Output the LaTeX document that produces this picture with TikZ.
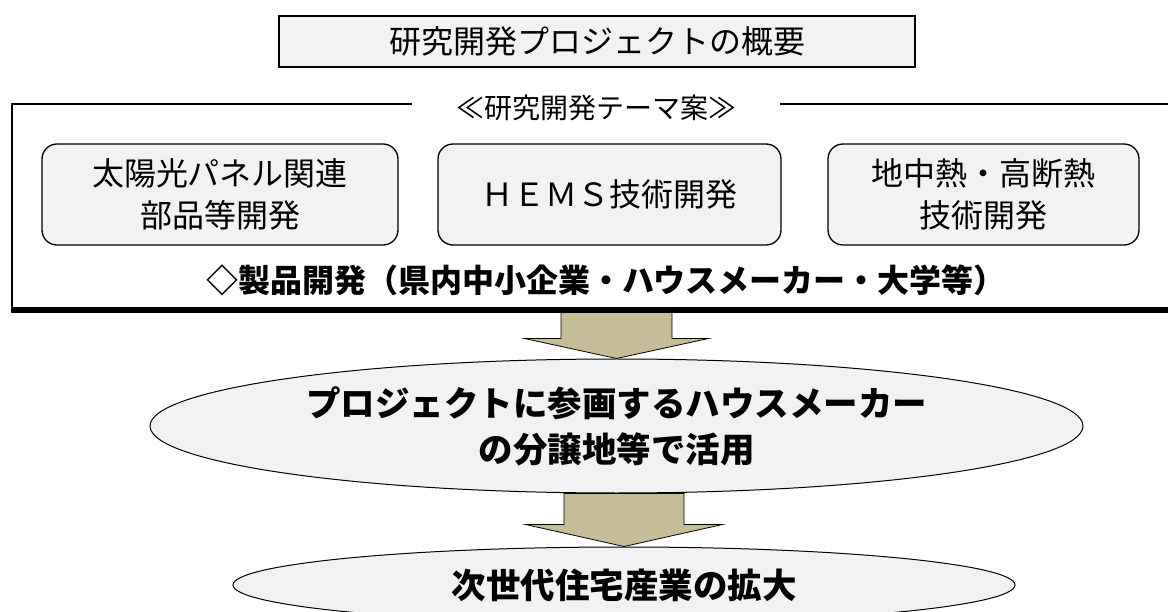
\documentclass[tikz,border=0pt]{standalone}
\usepackage{fontspec}
\setmainfont{Noto Sans CJK JP}
\usetikzlibrary{shapes.geometric,calc}
\definecolor{boxgray}{RGB}{242,242,242}
\definecolor{arrowtan}{RGB}{196,189,151}
\tikzstyle{themebox} = [draw, line width=1.3pt, rounded corners=15pt, fill=boxgray, minimum height=101pt, inner sep=0pt, align=center, font=\fontsize{32}{42}\selectfont]
\tikzstyle{outcome} = [draw, line width=1pt, ellipse, fill=boxgray, inner sep=0pt, align=center, font=\bfseries\fontsize{34.5}{46}\selectfont]
\tikzstyle{blockarrow} = [draw, line width=0.8pt, fill=arrowtan, line join=miter]

\begin{document}
\begin{tikzpicture}[x=1pt, y=-1pt]
\useasboundingbox (0,0) rectangle (1168,612);
\clip (0,0) rectangle (1168,612);

% Title
\node[draw, line width=1.2pt, fill=boxgray, minimum width=636pt, minimum height=51pt, inner sep=0pt, font=\fontsize{32}{38}\selectfont] (title) at (597,41.5) {研究開発プロジェクトの概要};

% Frame label
\node[font=\fontsize{28}{34}\selectfont, inner xsep=44pt] (theme) at (596,108) {≪研究開発テーマ案≫};

% Themes
\node[themebox, minimum width=356pt] (solar) at (220,194.5) {太陽光パネル関連\\部品等開発};
\node[themebox, minimum width=343pt] (hems) at (609.5,194.5) {ＨＥＭＳ技術開発};
\node[themebox, minimum width=311pt] (geo) at (983.5,194.5) {地中熱・高断熱\\技術開発};

% Product line
\node[font=\bfseries\fontsize{32}{38}\selectfont] (prod) at (606,280) {◇製品開発（県内中小企業・ハウスメーカー・大学等）};

% Outcomes
\node[outcome, minimum width=933pt, minimum height=134pt] (house) at (616.5,426) {プロジェクトに参画するハウスメーカー\\の分譲地等で活用};
\node[outcome, minimum width=782pt, minimum height=76pt] (expand) at (624,585) {次世代住宅産業の拡大};

% Block arrows
\coordinate (fline) at (0,310);
\coordinate (a1) at (house.north |- fline);
\draw[blockarrow] ($(a1)+(-55.5,0)$) -- ($(house.north)+(-55.5,-20)$) -- ($(house.north)+(-92,-20)$) -- (house.north)
  -- ($(house.north)+(92,-20)$) -- ($(house.north)+(55.5,-20)$) -- ($(a1)+(55.5,0)$) -- cycle;
\coordinate (a2) at (expand.north |- house.south);
\draw[blockarrow] ($(a2)+(-60,0)$) -- ($(expand.north)+(-60,-22)$) -- ($(expand.north)+(-98.5,-22)$) -- (expand.north)
  -- ($(expand.north)+(98.5,-22)$) -- ($(expand.north)+(60,-22)$) -- ($(a2)+(60,0)$) -- cycle;

% Frame
\coordinate (ftl) at (12,104);
\draw[line width=1.3pt] (theme.west |- ftl) -- (ftl) -- (12,310);
\draw[line width=1.3pt] (theme.east |- ftl) -- (1180,104);
\draw[line width=6pt] (11.35,310) -- (1180,310);
\end{tikzpicture}
\end{document}
